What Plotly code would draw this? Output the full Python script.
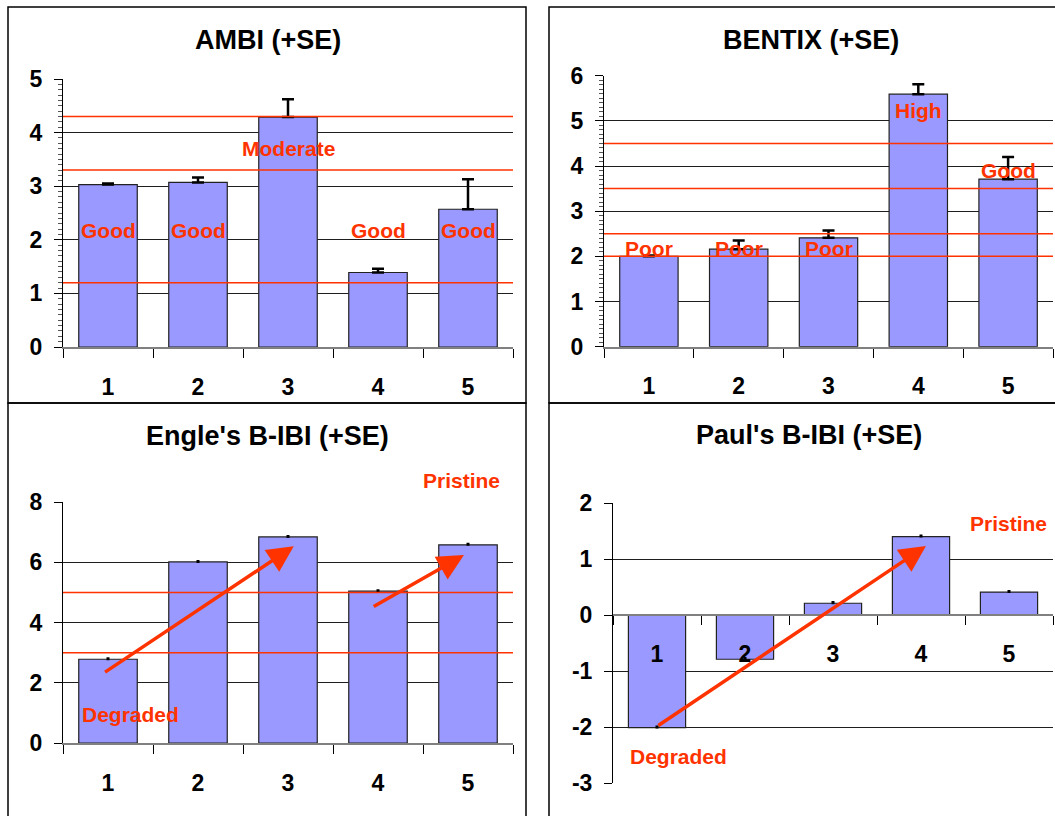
import plotly.graph_objects as go

W, H = 1055, 816
FONT = "Liberation Sans, Arial, Helvetica, sans-serif"
RED = "#FF3300"
BAR = "#9999FF"

sites = [1, 2, 3, 4, 5]
site_labels = ["1", "2", "3", "4", "5"]

ambi_mean = [3.03, 3.07, 4.29, 1.39, 2.57]
ambi_se = [0.02, 0.09, 0.33, 0.07, 0.56]
ambi_thresholds = [1.2, 3.3, 4.3]
ambi_status = ["Good", "Good", "Moderate", "Good", "Good"]
ambi_status_y = [2.18, 2.18, 3.70, 2.18, 2.18]

bentix_mean = [2.00, 2.16, 2.41, 5.59, 3.71]
bentix_se = [0.02, 0.19, 0.16, 0.22, 0.49]
bentix_thresholds = [2.0, 2.5, 3.5, 4.5]
bentix_status = ["Poor", "Poor", "Poor", "High", "Good"]
bentix_status_y = [2.18, 2.18, 2.18, 5.24, 3.90]

engle_mean = [2.78, 6.01, 6.84, 5.04, 6.58]
engle_se = [0.03, 0.03, 0.03, 0.03, 0.03]
engle_thresholds = [3.0, 5.0]
engle_text = [("Pristine", 4.925, 8.71), ("Degraded", 1.248, 0.94)]
engle_arrows = [((0.951, 2.32), (3.064, 6.53)), ((3.936, 4.50), (4.955, 6.24))]

paul_mean = [-2.01, -0.79, 0.21, 1.40, 0.41]
paul_se = [0.02, 0.02, 0.02, 0.02, 0.02]
paul_text = [("Pristine", 4.995, 1.64), ("Degraded", 1.245, -2.53)]
paul_arrows = [((0.998, -1.99), (4.056, 1.23))]

# plot-area pixel boxes (left, right, top, bottom)
boxes = {
    1: (63, 513, 79, 347),
    2: (604, 1053, 75.7, 346.7),
    3: (63, 513, 502, 743),
    4: (613, 1053, 503, 783),
}
yranges = {1: (0, 5), 2: (0, 6), 3: (0, 8), 4: (-3, 2)}
ydticks = {1: 1, 2: 1, 3: 2, 4: 1}
titles = {1: ("AMBI (+SE)", 268, 39.5), 2: ("BENTIX (+SE)", 811, 39.5),
          3: ("Engle's B-IBI (+SE)", 267, 436), 4: ("Paul's B-IBI (+SE)", 809, 435)}

fig = go.Figure()
layout = dict(width=W, height=H, autosize=False, margin=dict(l=0, r=0, t=0, b=0, pad=0),
              paper_bgcolor="white", plot_bgcolor="white", showlegend=False,
              template="none", font=dict(family=FONT, color="black"))

tickfont = dict(family=FONT, size=23, color="black", weight="bold")
shapes = []
annotations = []

series = {1: (ambi_mean, ambi_se), 2: (bentix_mean, bentix_se),
          3: (engle_mean, engle_se), 4: (paul_mean, paul_se)}


def fmt(v):
    return str(int(v)).replace("\u2212", "-")


for i in range(1, 5):
    l, r, t, b = boxes[i]
    xd = [l / W, r / W]
    yd = [1 - b / H, 1 - t / H]
    xa = "xaxis" if i == 1 else f"xaxis{i}"
    ya = "yaxis" if i == 1 else f"yaxis{i}"
    xr = "x" if i == 1 else f"x{i}"
    yr = "y" if i == 1 else f"y{i}"
    mean, se = series[i]
    fig.add_trace(go.Bar(
        x=sites, y=mean, width=0.65, xaxis=xr, yaxis=yr,
        marker=dict(color=BAR, line=dict(color="#222222", width=1.2)),
        error_y=dict(type="data", array=se, arrayminus=[0] * len(se), symmetric=False,
                     color="black", thickness=2.5 if i <= 2 else 2, width=6 if i <= 2 else 1.5),
    ))
    y0, y1 = yranges[i]
    yt = list(range(y0, y1 + 1, ydticks[i]))
    yax = dict(domain=yd, range=[y0, y1], anchor=xr, tickmode="array",
               tickvals=yt, ticktext=[fmt(v) for v in yt], automargin=False,
               showgrid=True, gridcolor="#1e1e1e", gridwidth=1, zeroline=False,
               showline=True, linecolor="black", linewidth=1,
               ticks="outside", ticklen=8, tickcolor="black", tickwidth=1,
               tickfont=tickfont, ticklabelstandoff=7, fixedrange=True)
    if i <= 2:
        yax["minor"] = dict(dtick=0.1, tick0=0, ticks="outside", ticklen=4,
                            tickcolor="#555555", tickwidth=1, showgrid=False)
    xax = dict(domain=xd, range=[0.5, 5.5], anchor=yr, tickmode="array", automargin=False,
               tickvals=sites, ticktext=site_labels, ticks="", showgrid=False,
               zeroline=False, showline=True, linecolor="#808080", linewidth=2,
               tickfont=tickfont, ticklabelstandoff=18, fixedrange=True,
               minor=dict(tickmode="array", tickvals=[0.5, 1.5, 2.5, 3.5, 4.5, 5.5],
                          ticks="outside", ticklen=9, tickcolor="black", tickwidth=1,
                          showgrid=False))
    if y0 < 0:
        frac = (0 - y0) / (y1 - y0)
        xax["anchor"] = "free"
        xax["position"] = yd[0] + frac * (yd[1] - yd[0])
    layout[xa] = xax
    layout[ya] = yax

    title, tx, ty = titles[i]
    annotations.append(dict(text=title, x=tx / W, y=1 - ty / H, xref="paper", yref="paper",
                            showarrow=False, xanchor="center", yanchor="middle",
                            font=dict(family=FONT, size=27, color="black", weight="bold")))

# threshold lines
for i, ths in ((1, ambi_thresholds), (2, bentix_thresholds), (3, engle_thresholds)):
    xr = "x" if i == 1 else f"x{i}"
    yr = "y" if i == 1 else f"y{i}"
    for v in ths:
        shapes.append(dict(type="line", xref=f"{xr} domain", yref=yr, x0=0, x1=1, y0=v, y1=v,
                           line=dict(color=RED, width=1.5), layer="above"))

redfont = dict(family=FONT, size=21, color=RED, weight="bold")
for i, labels, ys in ((1, ambi_status, ambi_status_y), (2, bentix_status, bentix_status_y)):
    xr = "x" if i == 1 else f"x{i}"
    yr = "y" if i == 1 else f"y{i}"
    for s, lab, yv in zip(sites, labels, ys):
        annotations.append(dict(text=lab, x=s, y=yv, xref=xr, yref=yr, showarrow=False,
                                xanchor="center", yanchor="middle", font=redfont))

for i, texts, arrows in ((3, engle_text, engle_arrows), (4, paul_text, paul_arrows)):
    xr, yr = f"x{i}", f"y{i}"
    y0, y1 = yranges[i]
    for lab, xv, yv in texts:
        annotations.append(dict(text=lab, x=xv, y=(yv - y0) / (y1 - y0), xref=xr,
                                yref=f"{yr} domain", showarrow=False,
                                xanchor="center", yanchor="middle", font=redfont))
    for (tx0, ty0), (tx1, ty1) in arrows:
        annotations.append(dict(text="", x=tx1, y=ty1, xref=xr, yref=yr,
                                ax=tx0, ay=ty0, axref=xr, ayref=yr, showarrow=True,
                                arrowhead=2, arrowsize=1.5, arrowwidth=3.5, arrowcolor=RED,
                                standoff=0, startstandoff=0))

# panel frames
frames = [(8, 526, 7, 403), (549, 1070, 7, 403), (8, 526, 403, 830), (549, 1070, 403, 830)]
for l, r, t, b in frames:
    shapes.append(dict(type="rect", xref="paper", yref="paper", x0=l / W, x1=r / W,
                       y0=1 - b / H, y1=1 - t / H, line=dict(color="black", width=1.5),
                       fillcolor="rgba(0,0,0,0)", layer="below"))

layout["shapes"] = shapes
layout["annotations"] = annotations
fig.update_layout(**layout)
fig.write_html("out.html")
